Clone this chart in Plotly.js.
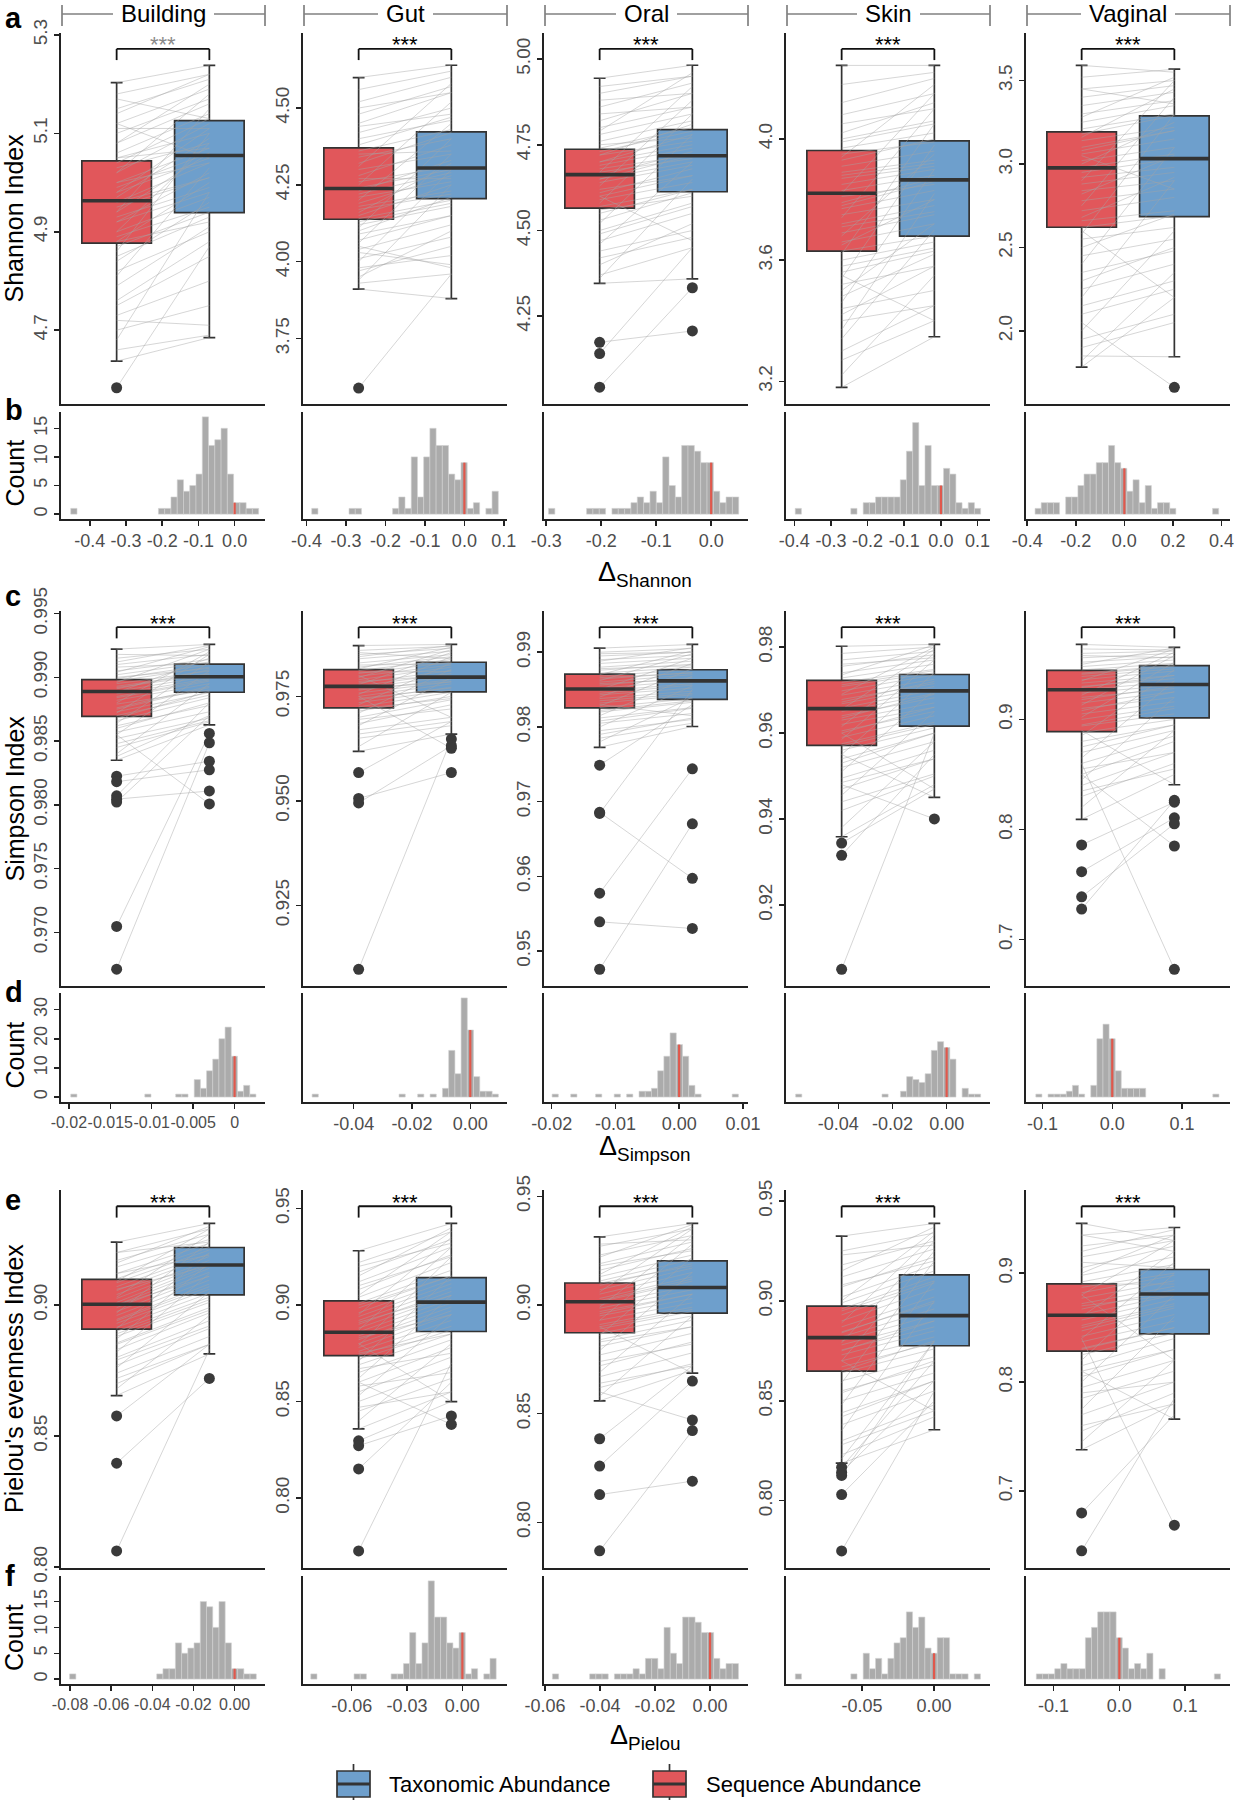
<!DOCTYPE html>
<html><head><meta charset="utf-8">
<script src="https://cdn.plot.ly/plotly-3.0.1.min.js"></script>
<style>html,body{margin:0;padding:0;background:#fff}#chart{width:1234px;height:1800px}</style>
</head><body><div id="chart"></div>
<script>
// ---------------- DATA ----------------
const columns = ['Building','Gut','Oral','Skin','Vaginal'];
const yTitles = ['Shannon Index','Simpson Index',"Pielou's evenness Index"];
const deltaNames = ['Shannon','Simpson','Pielou'];
const seriesNames = ['Taxonomic Abundance','Sequence Abundance'];

// box stats [lowerWhisker, q1, median, q3, upperWhisker]
const shannonSeqStats = [[4.637,4.877,4.963,5.044,5.203],[3.911,4.138,4.238,4.370,4.599],[4.346,4.565,4.663,4.737,4.944],[3.180,3.630,3.821,3.962,4.243],[1.783,2.621,2.977,3.192,3.591]];
const shannonTaxStats = [[4.685,4.939,5.055,5.126,5.238],[3.880,4.205,4.305,4.422,4.639],[4.359,4.613,4.718,4.794,4.982],[3.347,3.679,3.865,3.994,4.243],[1.845,2.685,3.032,3.288,3.568]];
const simpsonSeqStats = [[0.98350,0.98694,0.98889,0.98982,0.99221],[0.96186,0.97225,0.97740,0.98139,0.98717],[0.97728,0.98255,0.98508,0.98707,0.99055],[0.93588,0.95712,0.96567,0.97223,0.98017],[0.80927,0.88887,0.92698,0.94452,0.96813]];
const simpsonTaxStats = [[0.98627,0.98883,0.99005,0.99104,0.99258],[0.96600,0.97607,0.97962,0.98317,0.98743],[0.98006,0.98369,0.98617,0.98766,0.99104],[0.94503,0.96161,0.96981,0.97361,0.98060],[0.84064,0.90135,0.93170,0.94890,0.96543]];
const pielouSeqStats = [[0.86547,0.89082,0.90031,0.90980,0.92395],[0.83578,0.87381,0.88585,0.90211,0.92809],[0.85591,0.88724,0.90150,0.91013,0.93133],[0.81878,0.86490,0.88163,0.89735,0.93245],[0.73783,0.82846,0.86142,0.89026,0.94569]];
const pielouTaxStats = [[0.88134,0.90389,0.91524,0.92193,0.93110],[0.84994,0.88627,0.90148,0.91415,0.94225],[0.86867,0.89625,0.90807,0.92026,0.93752],[0.83551,0.87755,0.89265,0.91306,0.93878],[0.76592,0.84419,0.88090,0.90337,0.94195]];

// paired samples (sequence abundance -> taxonomic abundance), per habitat
const shannonSeq = [
 [5.203,5.18,5.15,5.12,5.10,5.08,5.06,5.05,5.04,5.03,5.02,5.00,4.99,4.98,4.97,4.96,4.95,4.94,4.93,4.92,4.90,4.89,4.88,4.87,4.85,4.82,4.79,4.76,4.73,4.70,4.66,4.637,4.583,4.72,5.12,
  4.68,4.75,4.81,4.84,4.86,4.88,4.90,4.92,4.94,4.96,4.98,5.00,5.02,5.05,5.08,5.11,5.14,5.17],
 [4.599,4.56,4.52,4.48,4.45,4.42,4.40,4.38,4.36,4.34,4.32,4.30,4.28,4.26,4.24,4.23,4.21,4.19,4.17,4.15,4.14,4.12,4.10,4.07,4.04,4.01,3.98,3.95,3.93,3.911,3.589,4.05,
  3.94,3.97,4.00,4.03,4.06,4.09,4.11,4.13,4.16,4.18,4.20,4.22,4.25,4.27,4.31,4.35,4.44,4.50],
 [4.944,4.90,4.86,4.82,4.80,4.78,4.76,4.74,4.73,4.72,4.70,4.69,4.68,4.67,4.66,4.65,4.64,4.62,4.61,4.59,4.57,4.56,4.53,4.50,4.47,4.44,4.40,4.37,4.346,4.60,4.043,4.174,4.141,
  4.36,4.42,4.46,4.49,4.52,4.55,4.58,4.60,4.63,4.65,4.67,4.70,4.72,4.75,4.79,4.84,4.88,4.92],
 [4.243,4.18,4.12,4.08,4.05,4.02,3.99,3.97,3.95,3.93,3.91,3.89,3.87,3.85,3.83,3.81,3.79,3.77,3.75,3.72,3.69,3.66,3.63,3.60,3.56,3.52,3.48,3.44,3.40,3.34,3.27,3.180,3.55,
  3.22,3.30,3.37,3.42,3.46,3.50,3.54,3.58,3.62,3.65,3.68,3.71,3.74,3.78,3.82,3.88,3.94,4.00],
 [3.591,3.52,3.45,3.40,3.35,3.30,3.25,3.21,3.18,3.14,3.10,3.06,3.02,2.98,2.95,2.92,2.88,2.84,2.78,2.72,2.66,2.62,2.55,2.45,2.35,2.25,2.15,2.05,1.95,1.85,1.783,2.60,3.05,
  1.82,1.90,2.00,2.10,2.20,2.30,2.40,2.50,2.58,2.68,2.75,2.82,2.90,3.00,3.08,3.16,3.28,3.45]];
const shannonTax = [
 [5.238,5.22,5.21,5.19,5.17,5.16,5.14,5.10,5.13,5.08,5.12,5.07,5.06,5.05,5.09,5.04,5.01,5.06,4.99,5.02,4.97,4.95,5.00,4.94,4.93,4.90,4.91,4.88,4.80,4.75,4.69,4.685,4.87,4.71,5.05,
  4.98,4.85,5.03,4.96,5.10,4.92,5.08,4.98,5.15,5.01,5.11,5.04,5.18,5.07,5.20,5.11,5.22,5.13],
 [4.639,4.62,4.60,4.57,4.55,4.50,4.46,4.47,4.43,4.40,4.42,4.35,4.38,4.31,4.30,4.33,4.26,4.28,4.22,4.25,4.20,4.18,4.21,4.15,4.12,4.08,4.02,4.10,3.96,3.880,3.96,3.98,
  4.25,4.05,4.30,3.99,4.35,4.15,4.40,4.19,4.32,4.23,4.45,4.29,4.52,4.27,4.58,4.36,4.48,4.55],
 [4.982,4.95,4.93,4.90,4.86,4.84,4.82,4.80,4.79,4.76,4.78,4.74,4.72,4.71,4.73,4.70,4.69,4.66,4.68,4.64,4.62,4.60,4.61,4.58,4.55,4.50,4.52,4.45,4.359,4.47,4.333,4.207,4.45,
  4.65,4.48,4.70,4.57,4.78,4.62,4.84,4.66,4.88,4.72,4.92,4.75,4.81,4.77,4.96,4.86,4.90,4.95],
 [4.243,4.22,4.20,4.15,4.10,4.12,4.05,4.02,3.99,4.00,3.96,3.93,3.91,3.90,3.88,3.85,3.87,3.83,3.80,3.78,3.75,3.72,3.68,3.66,3.63,3.58,3.62,3.50,3.45,3.70,3.40,3.347,3.40,
  3.55,3.45,3.82,3.58,3.90,3.72,3.98,3.64,4.05,3.80,3.95,3.76,4.10,3.86,4.15,3.92,4.18,4.06],
 [3.55,3.568,3.50,3.47,3.43,3.38,3.35,3.30,3.29,3.22,3.20,3.15,3.10,3.06,3.03,2.98,2.95,2.90,2.85,2.80,2.72,2.69,2.62,2.55,2.48,2.40,2.30,1.662,2.10,1.845,2.20,2.20,2.85,
  2.35,2.05,2.60,2.25,2.90,2.50,3.10,2.70,3.30,2.92,3.40,3.05,3.50,3.25,3.20,3.45,3.52,3.36]];
const simpsonSeq = [
 [0.99221,0.9915,0.9910,0.9905,0.9902,0.9899,0.9897,0.9895,0.9893,0.9891,0.9889,0.9887,0.9885,0.9882,0.9879,0.9876,0.9873,0.9870,0.9866,0.9862,0.9857,0.9852,0.9845,0.9838,0.9835,0.98225,0.98182,0.98071,0.98045,0.98022,0.97047,0.96712,0.9855,
  0.9840,0.9848,0.9855,0.9860,0.9864,0.9868,0.9872,0.9875,0.9880,0.9884,0.9888,0.9892,0.9896,0.9900,0.9904,0.9908,0.9912,0.9918],
 [0.98717,0.9860,0.9850,0.9840,0.9830,0.9820,0.9812,0.9805,0.9798,0.9790,0.9782,0.9775,0.9770,0.9765,0.9758,0.9750,0.9742,0.9735,0.9725,0.9715,0.9700,0.9685,0.9670,0.9650,0.96186,0.9800,0.90972,0.95679,0.95058,0.94951,0.9750,
  0.9630,0.9660,0.9680,0.9695,0.9710,0.9720,0.9730,0.9745,0.9755,0.9768,0.9778,0.9786,0.9795,0.9808,0.9816,0.9825,0.9845,0.9855],
 [0.99055,0.9900,0.9895,0.9890,0.9885,0.9880,0.9876,0.9872,0.9868,0.9864,0.9860,0.9856,0.9852,0.9848,0.9843,0.9838,0.9832,0.9826,0.9820,0.9812,0.9805,0.9795,0.9785,0.97728,0.9830,0.94757,0.95775,0.96858,0.95392,0.97489,0.96843,
  0.9780,0.9790,0.9800,0.9808,0.9815,0.9822,0.9828,0.9835,0.9840,0.9845,0.9850,0.9858,0.9862,0.9866,0.9870,0.9878,0.9888,0.9898],
 [0.98017,0.9785,0.9770,0.9755,0.9740,0.9728,0.9718,0.9708,0.9698,0.9688,0.9678,0.9668,0.9658,0.9650,0.9640,0.9630,0.9620,0.9605,0.9590,0.9575,0.9560,0.9540,0.9520,0.9495,0.9470,0.9440,0.93588,0.9600,0.90506,0.93442,0.93157,0.9480,0.9550,
  0.9380,0.9420,0.9455,0.9485,0.9510,0.9530,0.9550,0.9570,0.9585,0.9600,0.9615,0.9635,0.9655,0.9672,0.9690,0.9712,0.9735,0.9760],
 [0.96813,0.9640,0.9600,0.9560,0.9520,0.9480,0.9450,0.9420,0.9390,0.9360,0.9330,0.9300,0.9270,0.9240,0.9200,0.9150,0.9100,0.9050,0.9000,0.8940,0.8880,0.8800,0.8700,0.8600,0.8500,0.8400,0.8300,0.80927,0.8900,0.7860,0.7617,0.7388,0.7277,0.8600,0.8500,
  0.8200,0.8350,0.8450,0.8550,0.8650,0.8750,0.8850,0.8950,0.9020,0.9080,0.9130,0.9180,0.9220,0.9290,0.9350,0.9410,0.9500,0.9580]];
const simpsonTax = [
 [0.99258,0.9922,0.9918,0.9914,0.9912,0.9910,0.9908,0.9905,0.9903,0.9906,0.9901,0.9899,0.9898,0.9895,0.9890,0.9893,0.9888,0.9886,0.9884,0.9878,0.9873,0.9868,0.9865,0.9870,0.98627,0.98342,0.98275,0.9880,0.98109,0.9870,0.98560,0.98487,0.98007,
  0.9895,0.9866,0.9905,0.9880,0.9912,0.9889,0.9918,0.9892,0.9920,0.9897,0.9915,0.9902,0.9922,0.9907,0.9924,0.9911,0.9925,0.9917],
 [0.98743,0.9870,0.9865,0.9858,0.9850,0.9845,0.9838,0.9832,0.9825,0.9820,0.9812,0.9805,0.9798,0.9790,0.9785,0.9780,0.9772,0.9765,0.9760,0.9750,0.9742,0.9730,0.9700,0.9680,0.9660,0.9700,0.9648,0.9690,0.9568,0.9632,0.9626,
  0.9760,0.9690,0.9795,0.9720,0.9815,0.9745,0.9830,0.9770,0.9845,0.9785,0.9855,0.9800,0.9862,0.9810,0.9868,0.9828,0.9872,0.9840],
 [0.99104,0.9905,0.9900,0.9896,0.9892,0.9888,0.9884,0.9880,0.9877,0.9873,0.9870,0.9866,0.9862,0.9858,0.9852,0.9848,0.9843,0.9838,0.9833,0.9826,0.9818,0.9810,0.9805,0.98006,0.9815,0.96704,0.97440,0.95974,0.95303,0.9830,0.9850,
  0.9840,0.9812,0.9855,0.9825,0.9868,0.9835,0.9878,0.9845,0.9885,0.9856,0.9892,0.9864,0.9898,0.9872,0.9902,0.9882,0.9906,0.9900],
 [0.98060,0.9800,0.9790,0.9782,0.9770,0.9760,0.9748,0.9740,0.9735,0.9725,0.9715,0.9708,0.9700,0.9692,0.9682,0.9670,0.9660,0.9650,0.9640,0.9625,0.9612,0.9600,0.9580,0.9560,0.9540,0.9505,0.9480,0.9470,0.9600,0.9470,0.9550,0.94003,0.94503,
  0.9580,0.9500,0.9650,0.9540,0.9700,0.9600,0.9740,0.9620,0.9770,0.9660,0.9785,0.9690,0.9795,0.9720,0.9800,0.9745,0.9805,0.9775],
 [0.96543,0.9630,0.9620,0.9600,0.9570,0.9540,0.9510,0.9490,0.9460,0.9440,0.9400,0.9370,0.9340,0.9310,0.9280,0.9250,0.9200,0.9160,0.9120,0.9050,0.9000,0.8950,0.8900,0.8850,0.8800,0.8700,0.8600,0.8500,0.84064,0.8248,0.8106,0.8052,0.8265,0.6730,0.7850,
  0.8900,0.8550,0.9200,0.8700,0.9350,0.8950,0.9450,0.9100,0.9520,0.9250,0.9580,0.9300,0.9610,0.9400,0.9640,0.9480,0.9650,0.9560]];
const pielouSeq = [
 [0.92395,0.9200,0.9170,0.9145,0.9120,0.9100,0.9085,0.9070,0.9055,0.9040,0.9025,0.9010,0.9000,0.8990,0.8975,0.8960,0.8945,0.8930,0.8915,0.8900,0.8880,0.8855,0.8830,0.8800,0.8770,0.8740,0.8700,0.86547,0.80622,0.83966,0.85770,
  0.8680,0.8720,0.8760,0.8790,0.8820,0.8850,0.8870,0.8890,0.8910,0.8940,0.8970,0.9000,0.9030,0.9060,0.9090,0.9120,0.9160,0.9200],
 [0.92809,0.9220,0.9170,0.9120,0.9080,0.9040,0.9010,0.8985,0.8960,0.8940,0.8920,0.8900,0.8880,0.8860,0.8840,0.8820,0.8800,0.8780,0.8760,0.8740,0.8720,0.8690,0.8650,0.8600,0.8550,0.8500,0.8450,0.83578,0.8800,0.77262,0.81508,0.82966,0.82712,0.8600,
  0.8400,0.8470,0.8530,0.8580,0.8620,0.8670,0.8710,0.8750,0.8790,0.8830,0.8870,0.8910,0.8950,0.9000,0.9050,0.9100,0.9150,0.9200],
 [0.93133,0.9270,0.9230,0.9190,0.9160,0.9130,0.9110,0.9090,0.9070,0.9050,0.9030,0.9015,0.9000,0.8985,0.8970,0.8950,0.8930,0.8910,0.8890,0.8870,0.8840,0.8810,0.8770,0.8720,0.8670,0.8620,0.85591,0.8900,0.78687,0.81276,0.82589,0.83846,0.8600,
  0.8580,0.8640,0.8690,0.8740,0.8790,0.8830,0.8860,0.8900,0.8930,0.8960,0.8990,0.9020,0.9060,0.9100,0.9140,0.9180,0.9220,0.9280],
 [0.93245,0.9250,0.9180,0.9120,0.9070,0.9020,0.8990,0.8960,0.8930,0.8900,0.8870,0.8845,0.8820,0.8800,0.8780,0.8755,0.8730,0.8700,0.8670,0.8640,0.8600,0.8550,0.8500,0.8440,0.8380,0.8300,0.8230,0.81878,0.8700,0.77490,0.80306,0.81673,0.81429,0.81265,
  0.8210,0.8280,0.8350,0.8420,0.8480,0.8540,0.8590,0.8650,0.8700,0.8750,0.8790,0.8840,0.8890,0.8950,0.9000,0.9080,0.9150,0.9230],
 [0.94569,0.9350,0.9250,0.9150,0.9050,0.8980,0.8920,0.8870,0.8820,0.8770,0.8720,0.8670,0.8620,0.8570,0.8520,0.8470,0.8420,0.8370,0.8310,0.8250,0.8150,0.8050,0.7950,0.7850,0.7700,0.7550,0.73783,0.8100,0.67978,0.64494,0.8400,0.8800,
  0.7450,0.7600,0.7750,0.7900,0.8000,0.8100,0.8200,0.8300,0.8400,0.8500,0.8600,0.8700,0.8800,0.8900,0.9000,0.9100,0.9200,0.9350]];
const pielouTax = [
 [0.93110,0.9290,0.9270,0.9250,0.9235,0.9220,0.9210,0.9195,0.9185,0.9170,0.9160,0.9150,0.9140,0.9125,0.9110,0.9095,0.9080,0.9060,0.9045,0.9030,0.9010,0.8990,0.8970,0.8940,0.8910,0.8880,0.8850,0.88134,0.8830,0.87201,0.8850,
  0.8960,0.8850,0.9050,0.8920,0.9120,0.8980,0.9160,0.9020,0.9200,0.9070,0.9240,0.9110,0.9270,0.9150,0.9290,0.9190,0.9300,0.9240],
 [0.94225,0.9380,0.9340,0.9300,0.9260,0.9220,0.9180,0.9150,0.9130,0.9110,0.9090,0.9070,0.9050,0.9030,0.9010,0.8990,0.8970,0.8950,0.8920,0.8890,0.8870,0.8850,0.8820,0.8780,0.8730,0.8680,0.8620,0.8550,0.84994,0.8700,0.8600,0.8500,0.84254,0.83811,
  0.8800,0.8550,0.8950,0.8650,0.9050,0.8750,0.9150,0.8850,0.9250,0.8950,0.9300,0.9050,0.9350,0.9150,0.9380,0.9250,0.9400,0.9320],
 [0.93752,0.9350,0.9320,0.9290,0.9260,0.9230,0.9210,0.9190,0.9170,0.9150,0.9130,0.9110,0.9090,0.9070,0.9050,0.9030,0.9010,0.8990,0.8970,0.8950,0.8930,0.8900,0.8870,0.8830,0.8780,0.8730,0.8700,0.86867,0.84221,0.81895,0.8650,0.8720,0.84709,
  0.8950,0.8720,0.9050,0.8820,0.9150,0.8900,0.9220,0.8980,0.9280,0.9050,0.9320,0.9120,0.9350,0.9180,0.9360,0.9250,0.9370,0.9300],
 [0.93878,0.9340,0.9300,0.9260,0.9220,0.9180,0.9150,0.9120,0.9090,0.9060,0.9020,0.8990,0.8960,0.8930,0.8900,0.8870,0.8850,0.8820,0.8790,0.8760,0.8720,0.8680,0.8640,0.8600,0.8550,0.8480,0.8420,0.83551,0.8450,0.8550,0.8500,0.8700,0.8600,0.8800,
  0.8800,0.8450,0.9000,0.8600,0.9100,0.8700,0.9200,0.8800,0.9250,0.8900,0.9300,0.9000,0.9330,0.9100,0.9350,0.9200,0.9370,0.9280],
 [0.9300,0.94195,0.9350,0.9300,0.9250,0.9150,0.9080,0.9000,0.8980,0.8930,0.8880,0.8850,0.8800,0.8760,0.8720,0.8680,0.8620,0.8560,0.8500,0.8450,0.8400,0.8300,0.8200,0.8100,0.8000,0.7900,0.7800,0.76592,0.7700,0.7850,0.66854,0.8200,
  0.8200,0.7800,0.8600,0.8000,0.8800,0.8300,0.9000,0.8500,0.9100,0.8700,0.9200,0.8800,0.9300,0.8900,0.9350,0.9050,0.9400,0.9200]];

// box-panel y ranges and ticks
const shannonYRange = [[4.550,5.304],[3.537,4.744],[3.994,5.076],[3.125,4.350],[1.562,3.785]];
const simpsonYRange = [[0.9658,0.9952],[0.90573,0.99543],[0.94533,0.99552],[0.90118,0.98837],[0.6578,0.9985]];
const pielouYRange = [[0.79969,0.94386],[0.76375,0.95957],[0.77899,0.95291],[0.76633,0.95551],[0.62921,0.97640]];
const shannonYTicks = [[4.7,4.9,5.1,5.3],[3.75,4.0,4.25,4.5],[4.25,4.5,4.75,5.0],[3.2,3.6,4.0],[2.0,2.5,3.0,3.5]];
const shannonYTickText = [['4.7','4.9','5.1','5.3'],['3.75','4.00','4.25','4.50'],['4.25','4.50','4.75','5.00'],['3.2','3.6','4.0'],['2.0','2.5','3.0','3.5']];
const simpsonYTicks = [[0.970,0.975,0.980,0.985,0.990,0.995],[0.925,0.950,0.975],[0.95,0.96,0.97,0.98,0.99],[0.92,0.94,0.96,0.98],[0.7,0.8,0.9]];
const simpsonYTickText = [['0.970','0.975','0.980','0.985','0.990','0.995'],['0.925','0.950','0.975'],['0.95','0.96','0.97','0.98','0.99'],['0.92','0.94','0.96','0.98'],['0.7','0.8','0.9']];
const pielouYTicks = [[0.80,0.85,0.90],[0.80,0.85,0.90,0.95],[0.80,0.85,0.90,0.95],[0.80,0.85,0.90,0.95],[0.7,0.8,0.9]];
const pielouYTickText = [['0.80','0.85','0.90'],['0.80','0.85','0.90','0.95'],['0.80','0.85','0.90','0.95'],['0.80','0.85','0.90','0.95'],['0.7','0.8','0.9']];

// histograms of deltas: first bin centre, bin width, counts (30 bins)
const shannonBinStart = [-0.444,-0.379,-0.290,-0.389,-0.355];
const shannonBinWidth = [0.0173,0.01576,0.01153,0.01686,0.0252];
const shannonCounts = [
 [1,0,0,0,0,0,0,0,0,0,0,0,0,0,1,1,3,6,4,5,7,17,12,13,15,7,2,2,1,1],
 [1,0,0,0,0,0,1,1,0,0,0,0,0,1,3,1,10,3,10,15,12,12,7,6,9,1,2,0,1,4],
 [1,0,0,0,0,0,1,1,1,0,1,1,1,2,3,2,4,2,10,5,3,12,12,11,9,9,4,2,3,3],
 [1,0,0,0,0,0,0,0,0,1,0,2,2,3,3,3,3,6,11,16,5,12,5,5,8,7,2,1,2,1],
 [1,2,2,2,0,3,3,5,7,7,9,9,12,9,8,4,6,2,5,1,2,2,1,0,0,0,0,0,0,1]];
const simpsonBinStart = [-0.0194,-0.0532,-0.01944,-0.0546,-0.1053];
const simpsonBinWidth = [0.000745,0.00213,0.000974,0.002276,0.00876];
const simpsonCounts = [
 [1,0,0,0,0,0,0,0,0,0,0,0,1,0,0,0,0,1,1,0,6,3,9,13,20,24,14,2,4,1],
 [1,0,0,0,0,0,0,0,0,0,0,0,0,0,1,0,0,1,0,1,0,3,16,8,34,23,7,2,2,1],
 [1,0,0,1,0,0,0,1,0,0,1,0,1,0,2,2,3,9,14,22,18,14,4,1,0,0,0,0,0,1],
 [1,0,0,0,0,0,0,0,0,0,0,0,0,0,1,0,0,2,7,6,5,8,16,19,17,13,0,3,1,1],
 [1,0,1,1,1,2,4,1,0,4,20,25,20,9,3,3,3,3,0,0,0,0,0,0,0,0,0,0,0,1]];
const pielouBinStart = [-0.0787,-0.0805,-0.0562,-0.0941,-0.1214];
const pielouBinWidth = [0.003025,0.00335,0.002255,0.00428,0.00932];
const pielouCounts = [
 [1,0,0,0,0,0,0,0,0,0,0,0,0,0,1,2,2,7,5,6,7,15,14,10,15,7,2,2,1,1],
 [1,0,0,0,0,0,0,1,1,0,0,0,0,1,1,3,9,3,7,19,12,12,7,6,9,1,2,0,1,4],
 [1,0,0,0,0,0,1,1,1,0,1,1,1,2,1,4,4,2,10,5,3,12,12,11,9,9,4,2,3,3],
 [1,0,0,0,0,0,0,0,0,1,0,5,2,4,1,4,7,8,13,10,12,6,5,8,8,1,1,1,0,1],
 [1,1,1,2,3,2,2,2,8,10,13,13,13,8,6,2,3,2,5,0,2,0,0,0,0,0,0,0,0,1]];

// histogram axes
const shannonXRange = [[-0.4796,0.0839],[-0.409,0.108],[-0.304,0.067],[-0.4226,0.134],[-0.405,0.435]];
const simpsonXRange = [[-0.02095,0.00367],[-0.0574,0.0126],[-0.0212,0.0108],[-0.0593,0.016],[-0.1238,0.169]];
const pielouXRange = [[-0.0844,0.01477],[-0.0864,0.0242],[-0.0604,0.0138],[-0.1027,0.0388],[-0.1417,0.168]];
const shannonXTicks = [[-0.4,-0.3,-0.2,-0.1,0],[-0.4,-0.3,-0.2,-0.1,0,0.1],[-0.3,-0.2,-0.1,0],[-0.4,-0.3,-0.2,-0.1,0,0.1],[-0.4,-0.2,0,0.2,0.4]];
const shannonXTickText = [['-0.4','-0.3','-0.2','-0.1','0.0'],['-0.4','-0.3','-0.2','-0.1','0.0','0.1'],['-0.3','-0.2','-0.1','0.0'],['-0.4','-0.3','-0.2','-0.1','0.0','0.1'],['-0.4','-0.2','0.0','0.2','0.4']];
const simpsonXTicks = [[-0.02,-0.015,-0.01,-0.005,0],[-0.04,-0.02,0],[-0.02,-0.01,0,0.01],[-0.04,-0.02,0],[-0.1,0,0.1]];
const simpsonXTickText = [['-0.02','-0.015','-0.01','-0.005','0'],['-0.04','-0.02','0.00'],['-0.02','-0.01','0.00','0.01'],['-0.04','-0.02','0.00'],['-0.1','0.0','0.1']];
const pielouXTicks = [[-0.08,-0.06,-0.04,-0.02,0],[-0.06,-0.03,0],[-0.06,-0.04,-0.02,0],[-0.05,0],[-0.1,0,0.1]];
const pielouXTickText = [['-0.08','-0.06','-0.04','-0.02','0.00'],['-0.06','-0.03','0.00'],['-0.06','-0.04','-0.02','0.00'],['-0.05','0.00'],['-0.1','0.0','0.1']];
const shannonCountTicks = [0,5,10,15];
const simpsonCountTicks = [0,10,20,30];
const pielouCountTicks = [0,5,10,15];

// ---------------- LAYOUT / STYLE ----------------
const W = 1234, H = 1800;
const FONT = 'Liberation Sans, Arial, Helvetica, sans-serif';
const SEQ_COLOR = '#E1575B', TAX_COLOR = '#6E9FCC';
const AXIS_COLOR = '#222222';
const BOX_TICK_FONT = {family: FONT, size: 19, color: '#4D4D4D'};
const HIST_TICK_FONT = {family: FONT, size: 18, color: '#4D4D4D'};
const DENSE_TICK_FONT = {family: FONT, size: 16, color: '#4D4D4D'};
const colLeft = [61, 303, 544, 786, 1026];
const colWidth = 204;
const rowPx = [
  {box:[33,404], hist:[412,519], letters:[['a',18],['b',410]], deltaY:574},
  {box:[611,986], hist:[993,1102], letters:[['c',596],['d',992]], deltaY:1148},
  {box:[1190,1568], hist:[1576,1684], letters:[['e',1200],['f',1576]], deltaY:1737}
];
const metrics = [
  {seqStats:shannonSeqStats, taxStats:shannonTaxStats, seq:shannonSeq, tax:shannonTax, yRange:shannonYRange, yTicks:shannonYTicks, yText:shannonYTickText, counts:shannonCounts, binStart:shannonBinStart, binWidth:shannonBinWidth, xRange:shannonXRange, xTicks:shannonXTicks, xText:shannonXTickText, countTicks:shannonCountTicks},
  {seqStats:simpsonSeqStats, taxStats:simpsonTaxStats, seq:simpsonSeq, tax:simpsonTax, yRange:simpsonYRange, yTicks:simpsonYTicks, yText:simpsonYTickText, counts:simpsonCounts, binStart:simpsonBinStart, binWidth:simpsonBinWidth, xRange:simpsonXRange, xTicks:simpsonXTicks, xText:simpsonXTickText, countTicks:simpsonCountTicks},
  {seqStats:pielouSeqStats, taxStats:pielouTaxStats, seq:pielouSeq, tax:pielouTax, yRange:pielouYRange, yTicks:pielouYTicks, yText:pielouYTickText, counts:pielouCounts, binStart:pielouBinStart, binWidth:pielouBinWidth, xRange:pielouXRange, xTicks:pielouXTicks, xText:pielouXTickText, countTicks:pielouCountTicks}
];

const px = p => p / W;
const py = p => 1 - p / H;
const traces = [], shapes = [], annotations = [];
const layout = {
  width: W, height: H, margin: {l:0, r:0, t:0, b:0},
  paper_bgcolor: '#ffffff', plot_bgcolor: 'rgba(0,0,0,0)',
  showlegend: false, font: {family: FONT, color: '#000'},
  boxmode: 'overlay'
};
const axName = i => (i === 1 ? '' : String(i));

metrics.forEach((M, r) => {
  const R = rowPx[r];
  const maxCount = Math.max(...M.counts.map(a => Math.max(...a)));
  columns.forEach((col, c) => {
    const l = colLeft[c];
    const xd = [px(l), px(l + colWidth)];
    const bi = r * 10 + c + 1, hi = r * 10 + 6 + c;
    const bx = 'x' + axName(bi), by = 'y' + axName(bi);
    const hx = 'x' + axName(hi), hy = 'y' + axName(hi);

    // ---- box panel axes
    layout['xaxis' + axName(bi)] = {domain: xd, anchor: by, range: [0.4, 2.6], showticklabels: false, ticks: '',
      showline: true, linecolor: AXIS_COLOR, linewidth: 1.6, showgrid: false, zeroline: false, fixedrange: true};
    layout['yaxis' + axName(bi)] = {domain: [py(R.box[1]), py(R.box[0])], anchor: bx, range: M.yRange[c],
      tickmode: 'array', tickvals: M.yTicks[c], ticktext: M.yText[c], tickangle: -90, tickfont: BOX_TICK_FONT,
      ticks: 'outside', ticklen: 5, tickwidth: 1.5, tickcolor: AXIS_COLOR, ticklabeloverflow: 'allow',
      showline: true, linecolor: AXIS_COLOR, linewidth: 1.6, showgrid: false, zeroline: false, fixedrange: true};

    // ---- boxes
    [[M.seqStats[c], 1, SEQ_COLOR], [M.taxStats[c], 2, TAX_COLOR]].forEach(([s, xp, colr]) => {
      traces.push({type: 'box', orientation: 'v', x: [xp], lowerfence: [s[0]], q1: [s[1]], median: [s[2]], q3: [s[3]], upperfence: [s[4]],
        width: 0.75, whiskerwidth: 0.17, fillcolor: colr, line: {color: '#333333', width: 1.7},
        xaxis: bx, yaxis: by, hoverinfo: 'skip'});
    });
    // ---- paired lines
    const lx = [], ly = [];
    M.seq[c].forEach((v, i) => { lx.push(1, 2, null); ly.push(v, M.tax[c][i], null); });
    traces.push({type: 'scatter', mode: 'lines', x: lx, y: ly, line: {color: 'rgba(165,165,165,0.5)', width: 0.9},
      xaxis: bx, yaxis: by, hoverinfo: 'skip'});
    // ---- medians (thick)
    [[M.seqStats[c][2], 1], [M.taxStats[c][2], 2]].forEach(([m, xp]) => {
      traces.push({type: 'scatter', mode: 'lines', x: [xp - 0.375, xp + 0.375], y: [m, m],
        line: {color: '#333333', width: 3.6}, xaxis: bx, yaxis: by, hoverinfo: 'skip'});
    });
    // ---- outliers
    const ox = [], oy = [];
    [[M.seq[c], M.seqStats[c], 1], [M.tax[c], M.taxStats[c], 2]].forEach(([vals, s, xp]) => {
      vals.forEach(v => { if (v < s[0] - 1e-9 || v > s[4] + 1e-9) { ox.push(xp); oy.push(v); } });
    });
    traces.push({type: 'scatter', mode: 'markers', x: ox, y: oy, marker: {size: 11, color: '#3a3a3a'},
      xaxis: bx, yaxis: by, hoverinfo: 'skip', cliponaxis: false});

    // ---- significance bracket
    const yd = by + ' domain';
    const br = {color: '#111', width: 1.8};
    shapes.push({type: 'line', xref: bx, yref: yd, x0: 1, x1: 1, y0: 0.927, y1: 0.957, line: br});
    shapes.push({type: 'line', xref: bx, yref: yd, x0: 2, x1: 2, y0: 0.927, y1: 0.957, line: br});
    shapes.push({type: 'line', xref: bx, yref: yd, x0: 1, x1: 2, y0: 0.957, y1: 0.957, line: br});
    annotations.push({xref: bx, yref: yd, x: 1.5, y: 0.929, yanchor: 'bottom', xanchor: 'center', showarrow: false,
      text: '***', font: {family: FONT, size: 22, color: (r === 0 && c === 0) ? '#8a8a8a' : '#000'}});

    // ---- histogram axes
    layout['xaxis' + axName(hi)] = {domain: xd, anchor: hy, range: M.xRange[c],
      tickmode: 'array', tickvals: M.xTicks[c], ticktext: M.xText[c], tickangle: 0,
      tickfont: (c === 0 && r > 0) ? DENSE_TICK_FONT : HIST_TICK_FONT,
      ticks: 'outside', ticklen: 5, tickwidth: 1.5, tickcolor: AXIS_COLOR, ticklabeloverflow: 'allow',
      showline: true, linecolor: AXIS_COLOR, linewidth: 1.6, showgrid: false, zeroline: false, fixedrange: true};
    const hyAx = {domain: [py(R.hist[1]), py(R.hist[0])], anchor: hx, range: [-0.05 * maxCount, 1.05 * maxCount],
      showline: true, linecolor: AXIS_COLOR, linewidth: 1.6, showgrid: false, zeroline: false, fixedrange: true};
    if (c === 0) {
      Object.assign(hyAx, {tickmode: 'array', tickvals: M.countTicks, ticktext: M.countTicks.map(String), tickangle: -90,
        tickfont: HIST_TICK_FONT, ticks: 'outside', ticklen: 5, tickwidth: 1.5, tickcolor: AXIS_COLOR, ticklabeloverflow: 'allow'});
    } else {
      Object.assign(hyAx, {showticklabels: false, ticks: ''});
    }
    layout['yaxis' + axName(hi)] = hyAx;

    // ---- histogram bars
    const hxv = [], hyv = [];
    M.counts[c].forEach((n, k) => { if (n > 0) { hxv.push(M.binStart[c] + k * M.binWidth[c]); hyv.push(n); } });
    traces.push({type: 'bar', x: hxv, y: hyv, width: M.binWidth[c],
      marker: {color: '#ababab', line: {color: '#d2d2d2', width: 0.6}}, xaxis: hx, yaxis: hy, hoverinfo: 'skip'});
    const k0 = Math.round((0 - M.binStart[c]) / M.binWidth[c]);
    traces.push({type: 'scatter', mode: 'lines', x: [0, 0], y: [0, M.counts[c][k0]],
      line: {color: '#E0584C', width: 2.2}, xaxis: hx, yaxis: hy, hoverinfo: 'skip'});

    // ---- strip (top row only)
    if (r === 0) {
      const sy = 14;
      const sl = {color: '#808080', width: 1.7};
      shapes.push({type: 'line', xref: 'paper', yref: 'paper', x0: px(l + 1), x1: px(l + colWidth), y0: py(sy), y1: py(sy), line: sl});
      shapes.push({type: 'line', xref: 'paper', yref: 'paper', x0: px(l + 1), x1: px(l + 1), y0: py(5), y1: py(26), line: sl});
      shapes.push({type: 'line', xref: 'paper', yref: 'paper', x0: px(l + colWidth), x1: px(l + colWidth), y0: py(5), y1: py(26), line: sl});
      annotations.push({xref: 'paper', yref: 'paper', x: px(l + colWidth / 2), y: py(sy), xanchor: 'center', yanchor: 'middle',
        text: col, showarrow: false, bgcolor: '#ffffff', borderpad: 3, borderwidth: 0, font: {family: FONT, size: 24, color: '#000'},
        width: null});
      // white gaps either side of the strip label
    }
  });

  // row titles, letters, delta label
  annotations.push({xref: 'paper', yref: 'paper', x: px(14), y: py((R.box[0] + R.box[1]) / 2), xanchor: 'center', yanchor: 'middle',
    textangle: -90, text: yTitles[r], showarrow: false, font: {family: FONT, size: 25, color: '#000'}});
  annotations.push({xref: 'paper', yref: 'paper', x: px(14), y: py((R.hist[0] + R.hist[1]) / 2 + 8), xanchor: 'center', yanchor: 'middle',
    textangle: -90, text: 'Count', showarrow: false, font: {family: FONT, size: 25, color: '#000'}});
  R.letters.forEach(([t, yy]) => {
    annotations.push({xref: 'paper', yref: 'paper', x: px(3), y: py(yy), xanchor: 'left', yanchor: 'middle',
      text: '<b>' + t + '</b>', showarrow: false, font: {family: FONT, size: 29, color: '#000'}});
  });
  annotations.push({xref: 'paper', yref: 'paper', x: px(645), y: py(R.deltaY), xanchor: 'center', yanchor: 'middle',
    text: 'Δ<sub>' + deltaNames[r] + '</sub>', showarrow: false, font: {family: FONT, size: 27, color: '#000'}});
});

// strip labels get a wider white gap around the text
annotations.forEach(a => { if (columns.includes(a.text)) { a.borderpad = 8; delete a.width; } });

// ---- legend (drawn as ggplot-style boxplot keys)
const legendKeys = [
  {name: seriesNames[0], color: TAX_COLOR, x: 337, tx: 387},
  {name: seriesNames[1], color: SEQ_COLOR, x: 653, tx: 704}
];
legendKeys.forEach(k => {
  const cy = 1784, kw = 33, kh = 26;
  shapes.push({type: 'line', xref: 'paper', yref: 'paper', x0: px(k.x + kw / 2), x1: px(k.x + kw / 2), y0: py(cy - 20), y1: py(cy + 18), line: {color: '#333', width: 1.7}});
  shapes.push({type: 'rect', xref: 'paper', yref: 'paper', x0: px(k.x), x1: px(k.x + kw), y0: py(cy - kh / 2), y1: py(cy + kh / 2), fillcolor: k.color, line: {color: '#333', width: 1.7}});
  shapes.push({type: 'line', xref: 'paper', yref: 'paper', x0: px(k.x), x1: px(k.x + kw), y0: py(cy), y1: py(cy), line: {color: '#333', width: 3}});
  annotations.push({xref: 'paper', yref: 'paper', x: px(k.tx), y: py(cy), xanchor: 'left', yanchor: 'middle', text: k.name,
    showarrow: false, font: {family: FONT, size: 22, color: '#000'}});
});

layout.shapes = shapes;
layout.annotations = annotations;
Plotly.newPlot('chart', traces, layout, {staticPlot: true, displayModeBar: false});
</script></body></html>
